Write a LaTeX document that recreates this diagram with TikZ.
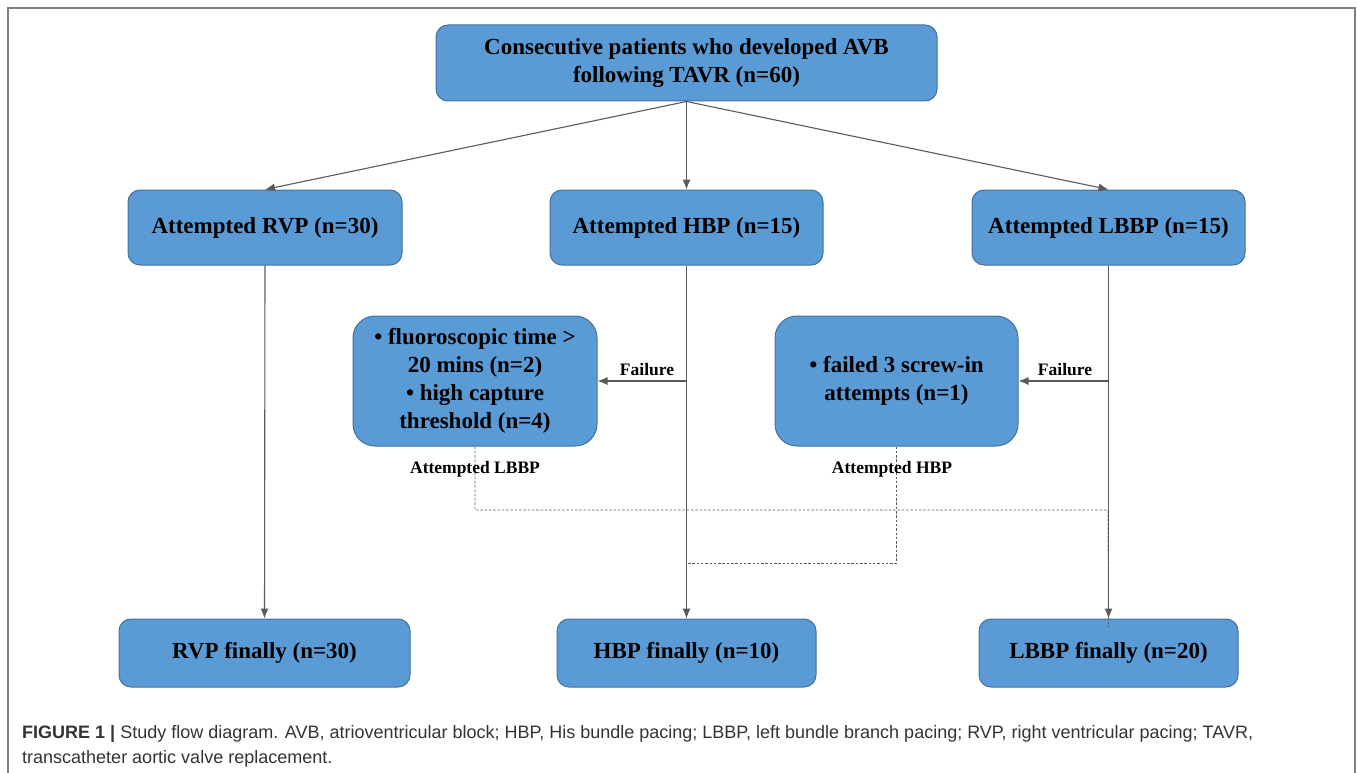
\documentclass[tikz,border=0pt]{standalone}
\usepackage{fontspec}
\setmainfont{Liberation Serif}
\newfontfamily\capfont{Liberation Sans}
\usetikzlibrary{arrows.meta}
\definecolor{boxfill}{HTML}{5B9BD5}
\definecolor{boxline}{HTML}{41719C}
\definecolor{conn}{HTML}{5A5A5A}
\definecolor{captxt}{HTML}{333333}
\definecolor{framec}{HTML}{7F7F7F}
\tikzset{
  flowbox/.style={draw=boxline, fill=boxfill, line width=1pt, rounded corners=12pt,
    inner sep=0pt, align=center, font=\bfseries\fontsize{23}{27.5}\selectfont},
  failbox/.style={flowbox, rounded corners=22pt, font=\bfseries\fontsize{23}{28}\selectfont},
  conline/.style={draw=conn, line width=1.1pt, -{Latex[length=10pt,width=8pt]}},
  dotline/.style={draw=conn, line width=0.9pt, dash pattern=on 2.5pt off 1.8pt},
  smalllab/.style={font=\bfseries\fontsize{17.5}{20}\selectfont, inner sep=0pt}
}
\begin{document}
\begin{tikzpicture}[x=1pt,y=-1pt]
\useasboundingbox (0,0) rectangle (1357,773);
\draw[framec, line width=1.5pt] (8,780) -- (8,8) -- (1355,8) -- (1355,780);

\node[flowbox, minimum width=501pt, minimum height=76pt] (top) at (686.5,63) {Consecutive patients who developed AVB\\following TAVR (n=60)};

\node[flowbox, minimum width=274pt, minimum height=75pt] (rva) at (265,227.5) {Attempted RVP (n=30)};
\node[flowbox, minimum width=273pt, minimum height=75pt] (hba) at (686.5,227.5) {Attempted HBP (n=15)};
\node[flowbox, minimum width=273pt, minimum height=75pt] (lba) at (1108.5,227.5) {Attempted LBBP (n=15)};

\node[failbox, minimum width=244pt, minimum height=130pt] (fb1) at (475,381) {• fluoroscopic time >\\20 mins (n=2)\\• high capture\\threshold (n=4)};
\node[failbox, minimum width=243pt, minimum height=130pt] (fb2) at (896.5,381) {• failed 3 screw-in\\attempts (n=1)};

\node[flowbox, minimum width=291pt, minimum height=68pt] (rvf) at (264.5,653) {RVP finally (n=30)};
\node[flowbox, minimum width=259pt, minimum height=68pt] (hbf) at (686.5,653) {HBP finally (n=10)};
\node[flowbox, minimum width=259pt, minimum height=68pt] (lbf) at (1108.5,653) {LBBP finally (n=20)};

\coordinate (f1) at (686,381);
\coordinate (f2) at (1108,381);
\coordinate (j1) at (1108,510);
\coordinate (j2) at (686,563);

\draw[conline] (top.south) -- (rva.north);
\draw[conline] (top.south) -- (hba.north);
\draw[conline] (top.south) -- (lba.north);

\draw[conline] (rva.south) -- (rvf.north);
\draw[conline] (hba.south) -- (hbf.north);
\draw[conline] (lba.south) -- (lbf.north);

\draw[conline] (f1) -- (fb1.east);
\draw[conline] (f2) -- (fb2.east);

\node[smalllab] (fl1) at (647,370) {Failure};
\node[smalllab] (fl2) at (1065,370) {Failure};

\draw[dotline] (fb1.south) |- (j1) -- ([yshift=-9pt]lbf.north);
\draw[dotline] (fb2.south) |- (j2);

\node[smalllab] (al1) at (475,469) {Attempted LBBP};
\node[smalllab] (al2) at (892,469) {Attempted HBP};

\node[anchor=north west, inner sep=0pt, align=left, text=captxt,
  font=\capfont\fontsize{18}{25}\selectfont] (cap) at (22,725)
  {\textbf{FIGURE 1 |} Study flow diagram. AVB, atrioventricular block; HBP, His bundle pacing; LBBP, left bundle branch pacing; RVP, right ventricular pacing; TAVR,\\transcatheter aortic valve replacement.};
\end{tikzpicture}
\end{document}
